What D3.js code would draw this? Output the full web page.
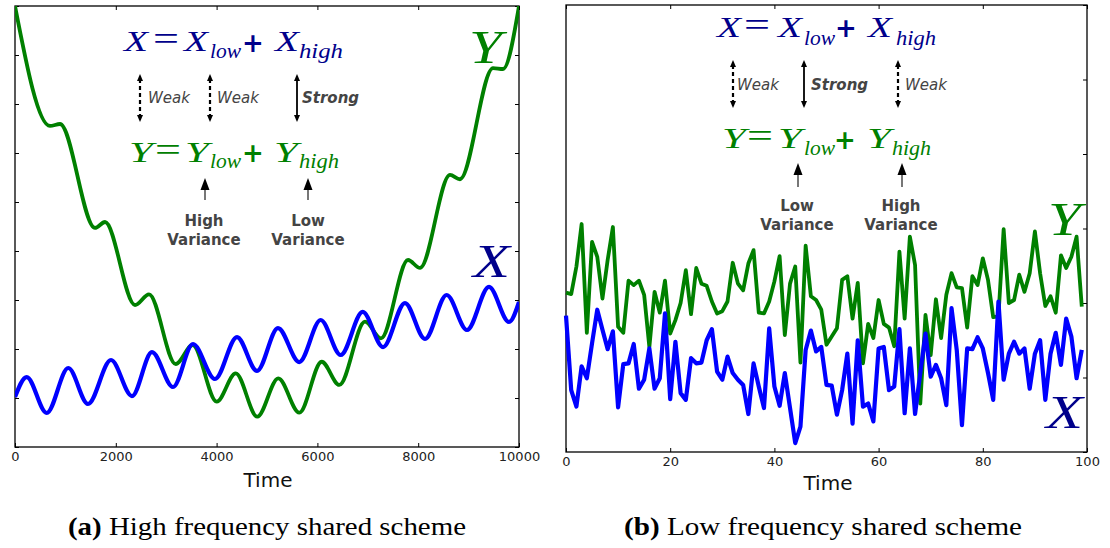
<!DOCTYPE html>
<html>
<head>
<meta charset="utf-8">
<script src="https://cdnjs.cloudflare.com/ajax/libs/d3/7.8.5/d3.min.js"></script>
<style>
  body { margin: 0; background: #fff; }
  svg { display: block; }
</style>
</head>
<body>
<div id="fig"></div>
<script>
// (a) high frequency shared: smooth curves, values read at the turning points
const leftXTime  = [0, 232, 629, 1058, 1448, 1905, 2321, 2718, 3135, 3532, 3968, 4405, 4802,
                    5218, 5641, 6065, 6462, 6899, 7302, 7738, 8135, 8565, 8968, 9405, 9802, 10000];
const leftXValue = [10.1, 12.14, 8.47, 13.06, 9.39, 13.88, 10.2, 14.69, 11.12, 15.51, 11.94, 16.22, 12.76,
                    17.14, 13.67, 17.96, 14.39, 18.78, 15.2, 19.69, 16.02, 20.51, 16.94, 21.33, 17.76, 19.8];
const leftYTime  = [0, 694, 893, 1587, 1786, 2381, 2659, 3188, 3526, 4002, 4379, 4807, 5224,
                    5641, 6085, 6435, 6944, 7262, 7798, 8036, 8631, 8829, 9484, 9683, 10000];
const leftYValue = [50, 37.76, 37.96, 27.35, 27.96, 19.49, 20.58, 13.47, 15.41, 9.62, 12.52, 8.09, 12.01,
                    8.5, 13.7, 11.33, 17.79, 16.09, 24.08, 23.27, 32.76, 32.32, 43.67, 43.57, 50];
const leftXTicks = [0, 2000, 4000, 6000, 8000, 10000];
const leftYTicks = [5, 10, 15, 20, 25, 30, 35, 40, 45, 50];

// (b) low frequency shared: 100 noisy samples each
const rightYValue = [21.4, 21.2, 24.9, 30.6, 16.0, 28.2, 26.2, 20.6, 25.8, 30.2,
                     16.8, 16.0, 23.0, 22.4, 23.0, 21.1, 14.1, 21.5, 18.7, 23.0,
                     15.9, 17.7, 20.0, 24.4, 18.5, 24.7, 22.6, 22.3, 20.2, 18.6,
                     18.9, 20.2, 25.4, 22.6, 21.7, 25.3, 27.1, 18.7, 18.6, 20.2,
                     22.9, 26.3, 15.7, 22.6, 24.9, 12.0, 27.7, 20.9, 20.4, 19.1,
                     14.4, 15.5, 16.6, 23.1, 23.6, 17.9, 22.7, 11.9, 17.2, 15.3,
                     20.4, 17.2, 16.7, 14.2, 26.9, 17.9, 28.9, 25.1, 6.5, 18.4,
                     13.0, 20.5, 15.3, 21.1, 24.0, 22.1, 22.0, 16.7, 23.6, 22.4,
                     26.0, 23.1, 18.1, 18.2, 29.9, 20.0, 20.4, 23.8, 21.5, 24.0,
                     29.6, 24.0, 19.6, 20.9, 18.7, 26.4, 24.7, 26.2, 28.9, 19.5];
const rightXValue = [18.3, 8.3, 6.1, 11.5, 9.9, 14.6, 19.1, 16.4, 13.8, 16.2,
                     6.0, 11.8, 11.9, 14.5, 8.5, 9.7, 13.9, 8.5, 9.9, 18.6,
                     7.1, 14.8, 7.9, 7.0, 12.6, 11.9, 12.0, 15.0, 16.5, 10.8,
                     9.7, 12.8, 10.6, 9.7, 9.0, 5.1, 11.9, 8.8, 5.9, 16.6,
                     8.8, 6.2, 10.6, 5.9, 1.2, 3.4, 13.7, 16.3, 13.5, 14.1,
                     9.0, 8.9, 5.0, 8.3, 13.2, 3.8, 15.0, 6.1, 6.5, 4.1,
                     13.9, 14.1, 8.3, 8.8, 16.5, 5.2, 13.9, 5.1, 10.6, 15.9,
                     10.1, 11.7, 9.9, 6.3, 19.3, 13.7, 3.6, 13.9, 13.8, 15.4,
                     13.9, 10.6, 7.0, 20.2, 9.7, 13.2, 14.8, 13.2, 13.9, 8.5,
                     13.2, 15.0, 7.0, 13.2, 16.0, 11.7, 17.9, 15.5, 9.9, 13.7];
const rightXTicks = [0, 20, 40, 60, 80, 100];
const rightYTicks = [0, 10, 20, 30, 40, 50, 60];

const NAVY = "#00008b", GREEN = "#008000", BLUE = "#0000ff", GREY = "#444";

const svg = d3.select("#fig").append("svg")
    .attr("width", 1110)
    .attr("height", 548);

const defs = svg.append("defs");

// draws frame + inward ticks on all four sides, returns the group
function panel(id, x, y, xt, yt, labelPad, labelClipX) {
  const [x0, x1] = x.range();
  const [y1, y0] = y.range(); // y1 = bottom, y0 = top
  const g = svg.append("g");

  defs.append("clipPath").attr("id", "plot-" + id)
    .append("rect").attr("x", x0).attr("y", y0).attr("width", x1 - x0).attr("height", y1 - y0);
  defs.append("clipPath").attr("id", "lab-" + id)
    .append("rect").attr("x", labelClipX).attr("y", 0).attr("width", x0 - labelClipX).attr("height", 548);

  const style = sel => {
    sel.select(".domain").remove();
    sel.selectAll(".tick line").attr("stroke", "#000");
    sel.attr("font-family", "DejaVu Sans").attr("font-size", 13).attr("color", "#222");
  };

  g.append("g").attr("transform", `translate(0,${y1})`)
    .call(d3.axisBottom(x).tickValues(xt).tickFormat(d3.format("d")).tickSize(-4).tickPadding(5))
    .call(style);
  g.append("g").attr("transform", `translate(0,${y0})`)
    .call(d3.axisTop(x).tickValues(xt).tickSize(-4).tickFormat("")).call(style);
  g.append("g").attr("transform", `translate(${x0},0)`)
    .attr("clip-path", `url(#lab-${id})`)
    .call(d3.axisLeft(y).tickValues(yt).tickFormat(d3.format("d")).tickSize(-4).tickPadding(labelPad))
    .call(style);
  g.append("g").attr("transform", `translate(${x1},0)`)
    .call(d3.axisRight(y).tickValues(yt).tickSize(-4).tickFormat("")).call(style);

  g.append("rect")
    .attr("x", x0).attr("y", y0).attr("width", x1 - x0).attr("height", y1 - y0)
    .attr("fill", "none").attr("stroke", "#000").attr("stroke-width", 1.3);
  return g;
}

// ---------- panel (a)
const xA = d3.scaleLinear().domain([0, 10000]).range([15, 519]);
const yA = d3.scaleLinear().domain([5, 50]).range([447, 6]);
panel("a", xA, yA, leftXTicks, leftYTicks, 11, 0);

const smooth = d3.line().curve(d3.curveMonotoneX);
svg.append("path")
  .attr("d", smooth.x(d => xA(d[0])).y(d => yA(d[1]))(leftYTime.map((t, i) => [t, leftYValue[i]])))
  .attr("clip-path", "url(#plot-a)")
  .attr("fill", "none").attr("stroke", GREEN).attr("stroke-width", 3.8);
svg.append("path")
  .attr("d", smooth.x(d => xA(d[0])).y(d => yA(d[1]))(leftXTime.map((t, i) => [t, leftXValue[i]])))
  .attr("clip-path", "url(#plot-a)")
  .attr("fill", "none").attr("stroke", BLUE).attr("stroke-width", 4.2);

// ---------- panel (b)
const xB = d3.scaleLinear().domain([0, 100]).range([566, 1087]);
const yB = d3.scaleLinear().domain([0, 60]).range([452, 5]);
panel("b", xB, yB, rightXTicks, rightYTicks, 4, 559.5);

const jagged = d3.line().x((d, i) => xB(i)).y(d => yB(d));
svg.append("path").attr("d", jagged(rightYValue))
  .attr("fill", "none").attr("stroke", GREEN).attr("stroke-width", 3.8)
  .attr("stroke-linejoin", "round");
svg.append("path").attr("d", jagged(rightXValue))
  .attr("fill", "none").attr("stroke", BLUE).attr("stroke-width", 4.2)
  .attr("stroke-linejoin", "round");

// axis titles
svg.append("text").attr("x", 268).attr("y", 487).attr("text-anchor", "middle")
  .attr("font-family", "DejaVu Sans").attr("font-size", 20).attr("fill", "#111").text("Time");
svg.append("text").attr("x", 828).attr("y", 490).attr("text-anchor", "middle")
  .attr("font-family", "DejaVu Sans").attr("font-size", 20).attr("fill", "#111").text("Time");

// ---------- annotations
function piece(x, y, s, size, color, w, family, weight) {
  const t = svg.append("text").attr("x", x).attr("y", y).text(s)
    .attr("font-size", size).attr("fill", color)
    .attr("font-family", family || "Liberation Serif")
    .attr("font-style", family ? "normal" : "italic")
    .attr("font-weight", weight || "normal");
  if (w) t.attr("textLength", w).attr("lengthAdjust", "spacingAndGlyphs");
  return t;
}

// one "V = V_low + V_high" line
function formula(v, color, base, sub, plusBase, xs) {
  piece(xs[0], base, v, 29, color, 24);
  piece(xs[1], base - 1, "=", 34, color, 26, "Liberation Serif");
  piece(xs[2], base, v, 29, color, 24);
  piece(xs[3], base + sub, "low", 20, color, 31);
  piece(xs[4], plusBase, "+", 26, color, null, "DejaVu Sans", "bold");
  piece(xs[5], base, v, 29, color, 24);
  piece(xs[6], base + sub, "high", 20, color, xs[7]);
}
formula("X", NAVY, 51, 7, 52, [124, 153, 184, 210, 242, 275, 299, 44]);
formula("Y", GREEN, 162, 6, 162, [129, 155, 185, 210, 242, 274, 299, 40]);
formula("X", NAVY, 37, 8, 37, [717, 744, 778, 804, 835, 868, 896, 40]);
formula("Y", GREEN, 148, 7, 149, [722, 747, 778, 804, 834, 867, 892, 39]);

function head(x, tip, dir, w, h, color) {
  svg.append("path")
    .attr("d", `M${x},${tip} L${x - w / 2},${tip - dir * h} L${x + w / 2},${tip - dir * h} Z`)
    .attr("fill", color);
}
function both(x, top, bottom, dashed) {
  svg.append("line").attr("x1", x).attr("x2", x).attr("y1", top + 5).attr("y2", bottom - 5)
    .attr("stroke", "#000").attr("stroke-width", dashed ? 2.2 : 1.8)
    .attr("stroke-dasharray", dashed ? "4,3" : null);
  head(x, top, -1, 6, 7, "#000");
  head(x, bottom, 1, 6, 7, "#000");
}
function up(x, tip, bottom) {
  svg.append("line").attr("x1", x).attr("x2", x).attr("y1", tip + 10).attr("y2", bottom)
    .attr("stroke", "#555").attr("stroke-width", 1.6);
  head(x, tip, -1, 9, 12, "#000");
}
function note(x, y, s, style, weight) {
  svg.append("text").attr("x", x).attr("y", y).text(s)
    .attr("font-family", "DejaVu Sans").attr("font-size", 15).attr("fill", GREY)
    .attr("font-style", style).attr("font-weight", weight);
}
function twoLine(x, y, a, b) {
  [a, b].forEach((s, i) => svg.append("text").attr("x", x).attr("y", y + i * 19)
    .attr("text-anchor", "middle").text(s)
    .attr("font-family", "DejaVu Sans").attr("font-size", 15)
    .attr("font-weight", "bold").attr("fill", GREY));
}

both(140, 74, 122, true);  note(148, 103, "Weak", "italic", "normal");
both(210, 74, 122, true);  note(217, 103, "Weak", "italic", "normal");
both(297, 74, 122, false); note(302, 103, "Strong", "italic", "bold");
up(205, 178, 200); twoLine(204, 226, "High", "Variance");
up(308, 178, 200); twoLine(308, 226, "Low", "Variance");

both(733, 60, 108, true);  note(737, 90, "Weak", "italic", "normal");
both(804, 60, 108, false); note(811, 90, "Strong", "italic", "bold");
both(898, 60, 108, true);  note(905, 90, "Weak", "italic", "normal");
up(798, 163, 187); twoLine(797, 211, "Low", "Variance");
up(902, 163, 187); twoLine(901, 211, "High", "Variance");

// series name letters
piece(469, 63, "Y", 46, GREEN, 33);
piece(473, 277, "X", 46, NAVY, 37);
piece(1048, 235, "Y", 46, GREEN, 33);
piece(1046, 428, "X", 46, NAVY, 37);

// ---------- captions
function caption(cx, tag, rest) {
  const t = svg.append("text").attr("x", cx).attr("y", 535).attr("text-anchor", "middle")
    .attr("font-family", "Liberation Serif").attr("font-size", 26).attr("fill", "#000")
    .attr("textLength", 398).attr("lengthAdjust", "spacingAndGlyphs");
  t.append("tspan").attr("font-weight", "bold").text(tag);
  t.append("tspan").text(rest);
}
caption(267, "(a)", " High frequency shared scheme");
caption(823, "(b)", " Low frequency shared scheme");
</script>
</body>
</html>
